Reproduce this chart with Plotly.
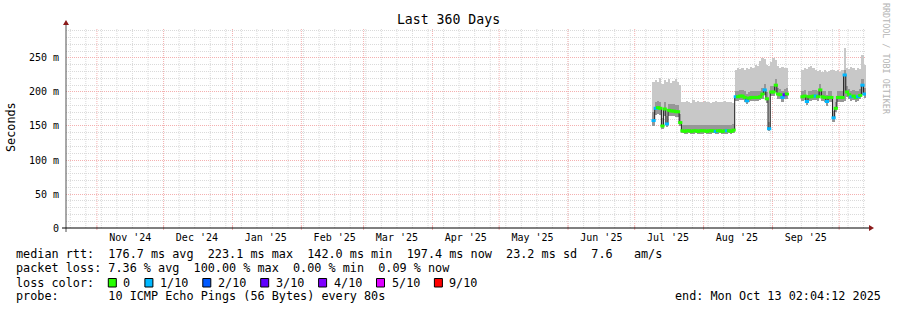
import numpy as np
import pandas as pd
import plotly.graph_objects as go

# ---------------- data ----------------
START = pd.Timestamp("2024-10-18 02:04:12")
END = pd.Timestamp("2025-10-13 02:04:12")

# one consolidated value per day, Jul 9 .. Oct 12 2025 (None = no data)
days = pd.date_range("2025-07-09", "2025-10-12", freq="D")

median_ms = (
    [158, 176, 177, 176, 150, 175, 153, 173, 172, 172, 171, 171, 155]            # Jul 9-21
    + [143, 142, 143, 143, 142, 143, 143, 142, 143, 143]                         # Jul 22-31
    + [143, 142, 143, 143, 143, 142, 143, 143, 142, 143, 143, 143, 142, 144]     # Aug 1-14
    + [193, 193, 194, 194, 192, 187, 191, 192, 192, 192, 192, 193, 197, 203,
       190, 146, 200]                                                            # Aug 15-31
    + [200, 210, 197, 196, 192, 196, 197]                                        # Sep 1-7
    + [None, None, None, None, None, None]                                       # Sep 8-13
    + [193, 194, 186, 193, 193, 194, 194, 193, 203, 193, 192, 186, 192, 192,
       162, 176, 192]                                                            # Sep 14-30
    + [192, 192, 225, 200, 196, 193, 194, 192, 193, 195, 210, 197]               # Oct 1-12
)

loss_count = (
    [1, 1, 0, 0, 0, 0, 1, 0, 0, 0, 0, 0, 0]
    + [0, 0, 0, 0, 0, 0, 0, 0, 0, 0]
    + [0, 0, 0, 0, 0, 1, 0, 0, 0, 0, 1, 0, 0, 0]
    + [1, 0, 0, 0, 0, 1, 0, 0, 0, 0, 0, 0, 0, 1, 0, 1, 0]
    + [0, 0, 0, 0, 1, 3, 0]
    + [None, None, None, None, None, None]
    + [0, 0, 1, 0, 0, 0, 1, 0, 0, 0, 0, 1, 0, 0, 1, 0, 0]
    + [0, 0, 1, 0, 0, 1, 0, 0, 1, 0, 1, 1]
)

smoke_lo_ms = (
    [150, 166, 167, 166, 146, 165, 148, 164, 164, 164, 163, 163, 150]
    + [139, 138, 138, 139, 138, 138, 139, 138, 138, 138]
    + [139, 138, 138, 138, 139, 138, 138, 139, 138, 138, 138, 139, 138, 139]
    + [187, 187, 188, 188, 186, 182, 186, 187, 187, 187, 187, 188, 190, 196,
       184, 142, 194]
    + [194, 200, 190, 189, 186, 189, 190]
    + [None, None, None, None, None, None]
    + [187, 188, 181, 187, 187, 188, 188, 187, 194, 187, 186, 180, 186, 186,
       156, 170, 186]
    + [186, 186, 187, 193, 190, 187, 188, 186, 187, 189, 196, 191]
)

smoke_mid_ms = (
    [170, 186, 187, 186, 162, 185, 164, 183, 182, 182, 181, 181, 168]
    + [152, 151, 152, 152, 151, 152, 152, 151, 152, 152]
    + [152, 151, 152, 152, 151, 152, 152, 152, 151, 152, 152, 152, 151, 153]
    + [202, 202, 203, 203, 201, 197, 200, 201, 201, 201, 201, 202, 206, 212,
       200, 156, 209]
    + [209, 219, 206, 205, 201, 205, 206]
    + [None, None, None, None, None, None]
    + [202, 203, 196, 202, 202, 203, 203, 202, 212, 202, 201, 196, 201, 201,
       172, 186, 201]
    + [201, 201, 232, 209, 205, 202, 203, 201, 202, 204, 219, 206]
)

smoke_hi_ms = (
    [214, 218, 215, 220, 212, 217, 214, 219, 213, 216, 219, 215, 210]
    + [186, 185, 187, 186, 184, 188, 186, 187, 185, 186]
    + [187, 185, 186, 184, 186, 187, 185, 186, 185, 187, 186, 185, 186, 184]
    + [232, 236, 234, 235, 233, 236, 234, 237, 235, 240, 238, 246, 250, 248,
       240, 238, 244]
    + [250, 247, 238, 236, 237, 236, 235]
    + [None, None, None, None, None, None]
    + [233, 236, 234, 237, 238, 236, 232, 231, 233, 230, 232, 230, 231, 233,
       232, 231, 232]
    + [230, 233, 265, 236, 234, 237, 235, 233, 236, 234, 254, 240]
)

loss_labels = ["0", "1/10", "2/10", "3/10", "4/10", "5/10", "9/10"]
loss_colors = ["#26ff00", "#00b8ff", "#0059ff", "#5e00ff", "#7e00ff", "#dd00ff", "#ff0000"]

y_tick_vals = [0, 0.05, 0.10, 0.15, 0.20, 0.25]
y_tick_text = ["0", "50 m", "100 m", "150 m", "200 m", "250 m"]
month_labels = ["Nov '24", "Dec '24", "Jan '25", "Feb '25", "Mar '25", "Apr '25",
                "May '25", "Jun '25", "Jul '25", "Aug '25", "Sep '25"]

stats_line1 = "median rtt:  176.7 ms avg  223.1 ms max  142.0 ms min  197.4 ms now  23.2 ms sd  7.6   am/s"
stats_line2 = "packet loss: 7.36 % avg  100.00 % max  0.00 % min  0.09 % now"
probe_line = "probe:       10 ICMP Echo Pings (56 Bytes) every 80s"
end_line = "end: Mon Oct 13 02:04:12 2025"

# ---------------- derived ----------------
med = np.array(median_ms, dtype=float) / 1000
lo = np.array(smoke_lo_ms, dtype=float) / 1000
mid = np.array(smoke_mid_ms, dtype=float) / 1000
hi = np.array(smoke_hi_ms, dtype=float) / 1000


def bucket(n):
    if n >= 9:
        return 6
    if n >= 5:
        return 5
    return n


point_colors = [loss_colors[bucket(n)] if n is not None else "rgba(0,0,0,0)" for n in loss_count]
day_ms = 86400000
centers = days + pd.Timedelta(hours=12)

month_starts = pd.date_range("2024-11-01", "2025-10-01", freq="MS")
month_mids = month_starts + pd.Timedelta(days=15)
weeks = pd.date_range("2024-10-20", "2025-10-12", freq="7D")

MONO = "DejaVu Sans Mono"
L, T, W, H = 66, 28, 800, 200


def px(x):
    return (x - L) / W


def py(y):
    return (T + H - y) / H


fig = go.Figure()

# smoke
fig.add_trace(go.Bar(x=days, y=hi - lo, base=lo, width=day_ms, offset=0,
                     marker=dict(color="#c8c8c8", line=dict(width=0)),
                     hoverinfo="skip", showlegend=False))
fig.add_trace(go.Bar(x=days, y=mid - lo, base=lo, width=day_ms, offset=0,
                     marker=dict(color="#979797", line=dict(width=0)),
                     hoverinfo="skip", showlegend=False))
# median line
fig.add_trace(go.Scatter(x=days, y=med, mode="lines",
                         line=dict(color="#202020", width=1, shape="hv"),
                         connectgaps=False, hoverinfo="skip", showlegend=False))
# loss-coloured median
fig.add_trace(go.Scatter(x=centers, y=med, mode="markers",
                         marker=dict(symbol="line-ew", size=3,
                                     line=dict(color=point_colors, width=3)),
                         hoverinfo="skip", showlegend=False))

GRID_GRAY = "#dadada"
GRID_RED = "#f4b0b0"

# weekly vertical grid
for w in weeks:
    fig.add_shape(type="line", xref="x", yref="paper", x0=w, x1=w, y0=0, y1=1,
                  line=dict(color=GRID_GRAY, width=1, dash="1px,1px"), layer="below")
# month vertical grid
for m in month_starts:
    fig.add_shape(type="line", xref="x", yref="paper", x0=m, x1=m, y0=0, y1=1,
                  line=dict(color=GRID_RED, width=1, dash="1px,1px"), layer="below")
    fig.add_shape(type="line", xref="x", yref="paper", x0=m, x1=m, y0=py(230), y1=py(226),
                  line=dict(color=GRID_RED, width=1), layer="above")

# axis lines and arrows
fig.add_shape(type="line", xref="paper", yref="paper", x0=px(66), x1=px(66),
              y0=py(232), y1=py(24), line=dict(color="#505050", width=1), layer="above")
fig.add_shape(type="line", xref="paper", yref="paper", x0=px(62), x1=px(869),
              y0=py(228), y1=py(228), line=dict(color="#000000", width=1), layer="above")
fig.add_shape(type="path", xref="paper", yref="paper", layer="above",
              path=f"M {px(63)} {py(25)} L {px(69)} {py(25)} L {px(66)} {py(20)} Z",
              fillcolor="#8b1a1a", line=dict(width=0))
fig.add_shape(type="path", xref="paper", yref="paper", layer="above",
              path=f"M {px(869)} {py(225)} L {px(869)} {py(231)} L {px(874)} {py(228)} Z",
              fillcolor="#8b1a1a", line=dict(width=0))

ann = []
# y-axis title
ann.append(dict(text="Seconds", x=px(11), y=py(127), xref="paper", yref="paper",
                xanchor="center", yanchor="middle",
                textangle=-90, showarrow=False, font=dict(family=MONO, size=11.8, color="#000")))
# watermark
ann.append(dict(text="RRDTOOL / TOBI OETIKER", x=px(886), y=py(59), xref="paper", yref="paper",
                xanchor="center", yanchor="middle",
                textangle=90, showarrow=False, font=dict(family=MONO, size=8.4, color="#b4b4b4")))


def txt(s, x, y, anchor="left"):
    ann.append(dict(text=s.replace(" ", "\u00a0"), x=px(x), y=py(y), xref="paper", yref="paper",
                    xanchor=anchor, yanchor="middle", showarrow=False,
                    font=dict(family=MONO, size=11.8, color="#000")))


LEFT = 13.5
txt(stats_line1, LEFT, 254.3)
txt(stats_line2, LEFT, 268.3)
txt("loss color:", LEFT, 282.5)
txt(probe_line, LEFT, 296.3)
txt(end_line, 883, 296.3, anchor="right")

# loss colour boxes
CW = 7.1
cursor = 108.3
for lab, col in zip(loss_labels, loss_colors):
    fig.add_shape(type="rect", xref="paper", yref="paper",
                  x0=px(cursor), x1=px(cursor + 8), y0=py(287), y1=py(278.5),
                  fillcolor=col, line=dict(color="#000", width=1), layer="above")
    txt(lab, cursor + 13, 282.5)
    cursor = cursor + 15 + len(lab) * CW + 2 * CW + 0.3

fig.update_layout(
    width=897, height=310,
    margin=dict(l=L, r=897 - L - W, t=T, b=310 - T - H),
    paper_bgcolor="#ffffff", plot_bgcolor="#ffffff",
    barmode="overlay", bargap=0,
    showlegend=False,
    title=dict(text="Last 360 Days", x=0.5, xref="container", xanchor="center",
               y=1 - 19 / 310, yref="container", yanchor="middle",
               font=dict(family=MONO, size=13.2, color="#000")),
    annotations=ann,
    xaxis=dict(type="date", range=[START, END], tickmode="array",
               tickvals=list(month_mids), ticktext=month_labels,
               showgrid=False, zeroline=False, showline=False, ticks="",
               ticklabelstandoff=2,
               tickfont=dict(family=MONO, size=10, color="#000"),
               fixedrange=True),
    yaxis=dict(range=[0, 0.2941], tickmode="array", tickvals=y_tick_vals, ticktext=y_tick_text,
               showgrid=True, gridcolor=GRID_RED, griddash="1px,1px", gridwidth=1,
               zeroline=False, showline=False, ticks="", ticklabelstandoff=6,
               tickfont=dict(family=MONO, size=10, color="#000"),
               minor=dict(dtick=0.01, tick0=0, showgrid=True, gridcolor=GRID_GRAY,
                          griddash="1px,1px", gridwidth=1),
               fixedrange=True),
)

fig.write_html("out.html")
